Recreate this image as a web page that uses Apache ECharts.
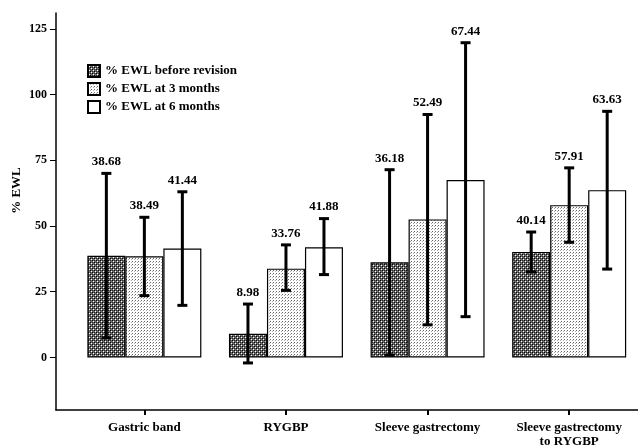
<!DOCTYPE html>
<html>
<head>
<meta charset="utf-8">
<script src="https://cdn.jsdelivr.net/npm/echarts@6/dist/echarts.min.js"></script>
<style>
  html, body { margin: 0; padding: 0; background: #fff; }
  #chart { width: 638px; height: 448px; }
</style>
</head>
<body>
<div id="chart"></div>
<script>
// groups on the x axis
const categories = ['Gastric band', 'RYGBP', 'Sleeve gastrectomy', 'Sleeve gastrectomy\nto RYGBP']
const seriesNames = ['% EWL before revision', '% EWL at 3 months', '% EWL at 6 months']

// mean %EWL per group
const before = [38.68, 8.98, 36.18, 40.14]
const month3 = [38.49, 33.76, 52.49, 57.91]
const month6 = [41.44, 41.88, 67.44, 63.63]

// error bar ends (low, high)
const beforeLow = [7.4, -2.1, 0.9, 32.5]
const beforeHigh = [70.0, 20.3, 71.4, 47.7]
const month3Low = [23.5, 25.5, 12.4, 43.8]
const month3High = [53.3, 42.8, 92.4, 72.1]
const month6Low = [19.8, 31.5, 15.5, 33.6]
const month6High = [63.0, 52.8, 119.7, 93.6]

const yTicks = [0, 25, 50, 75, 100, 125]

const BAR_W = 38
const FONT = '"Liberation Serif", "DejaVu Serif", serif'

// little bitmap fills like the old SPSS hatch patterns
function makePattern(size, base, dots) {
  const c = document.createElement('canvas')
  c.width = size; c.height = size
  const g = c.getContext('2d')
  g.fillStyle = base
  g.fillRect(0, 0, size, size)
  dots.forEach(d => { g.fillStyle = d[2]; g.fillRect(d[0], d[1], 1, 1) })
  return { image: c, repeat: 'repeat' }
}
const darkFill = makePattern(4, '#6a6a6a', [
  [0, 0, '#000'], [2, 2, '#000'], [1, 1, '#fff'], [3, 3, '#fff'], [2, 0, '#2a2a2a'], [0, 2, '#2a2a2a']
])
const lightFill = makePattern(3, '#ffffff', [[0, 0, '#666'], [2, 1, '#aaa']])
const fills = [darkFill, lightFill, '#ffffff']

const means = [before, month3, month6]
const lows = [beforeLow, month3Low, month6Low]
const highs = [beforeHigh, month3High, month6High]

function errRender(j) {
  return function (params, api) {
    const i = api.value(0)
    const base = api.coord([i, 0])
    const x = base[0] + (j - 1) * BAR_W
    const lo = api.coord([i, api.value(1)])[1]
    const hi = api.coord([i, api.value(2)])[1]
    const lineStyle = { stroke: '#000', lineWidth: 3 }
    return {
      type: 'group',
      children: [
        { type: 'line', shape: { x1: x, y1: lo, x2: x, y2: hi }, style: lineStyle },
        { type: 'line', shape: { x1: x - 5, y1: hi, x2: x + 5, y2: hi }, style: lineStyle },
        { type: 'line', shape: { x1: x - 5, y1: lo, x2: x + 5, y2: lo }, style: lineStyle },
        {
          type: 'text',
          x: x, y: hi - 5,
          style: {
            text: api.value(3).toFixed(2),
            font: 'bold 13px ' + FONT,
            fill: '#000',
            align: 'center',
            verticalAlign: 'bottom'
          }
        }
      ]
    }
  }
}

const series = []
seriesNames.forEach((name, j) => {
  series.push({
    name: name,
    type: 'bar',
    barWidth: BAR_W,
    barGap: '0%',
    data: means[j].map((v, i) => [i, v]),
    itemStyle: { color: fills[j], borderColor: '#000', borderWidth: 1.2 },
    z: 2
  })
})
seriesNames.forEach((name, j) => {
  series.push({
    type: 'custom',
    renderItem: errRender(j),
    data: means[j].map((v, i) => [i, lows[j][i], highs[j][i], v]),
    encode: { x: 0, y: [1, 2] },
    z: 5,
    silent: true
  })
})

const chart = echarts.init(document.getElementById('chart'))
chart.setOption({
  animation: false,
  backgroundColor: '#fff',
  textStyle: { fontFamily: FONT },
  grid: { left: 56, right: 0, top: 13, bottom: 38, outerBoundsMode: 'none', containLabel: false },
  legend: {
    data: seriesNames,
    orient: 'vertical',
    left: 82,
    top: 59,
    itemWidth: 12,
    itemHeight: 12,
    itemGap: 4,
    icon: 'rect',
    textStyle: { fontFamily: FONT, fontWeight: 'bold', fontSize: 13, color: '#000' }
  },
  xAxis: {
    type: 'value',
    min: -0.624,
    max: 3.486,
    splitLine: { show: false },
    axisLine: { show: true, onZero: false, lineStyle: { color: '#000', width: 1.5 } },
    axisTick: { show: true, customValues: [0, 1, 2, 3], length: 5, lineStyle: { color: '#000', width: 2 } },
    axisLabel: {
      customValues: [0, 1, 2, 3],
      formatter: v => categories[Math.round(v)],
      margin: 11,
      lineHeight: 14,
      fontFamily: FONT, fontWeight: 'bold', fontSize: 13, color: '#000'
    }
  },
  yAxis: {
    type: 'value',
    min: -20,
    max: 131,
    name: '% EWL',
    nameLocation: 'middle',
    nameGap: 33,
    nameMoveOverlap: false,
    nameTextStyle: { fontFamily: FONT, fontWeight: 'bold', fontSize: 13, color: '#000', padding: [0, 0, 0, 42] },
    splitLine: { show: false },
    axisLine: { show: true, onZero: false, lineStyle: { color: '#000', width: 1.5 } },
    axisTick: { show: true, customValues: yTicks, length: 6, lineStyle: { color: '#000', width: 1 } },
    axisLabel: {
      customValues: yTicks,
      margin: 9,
      fontFamily: FONT, fontWeight: 'bold', fontSize: 12, color: '#000'
    }
  },
  series: series
})
</script>
</body>
</html>
